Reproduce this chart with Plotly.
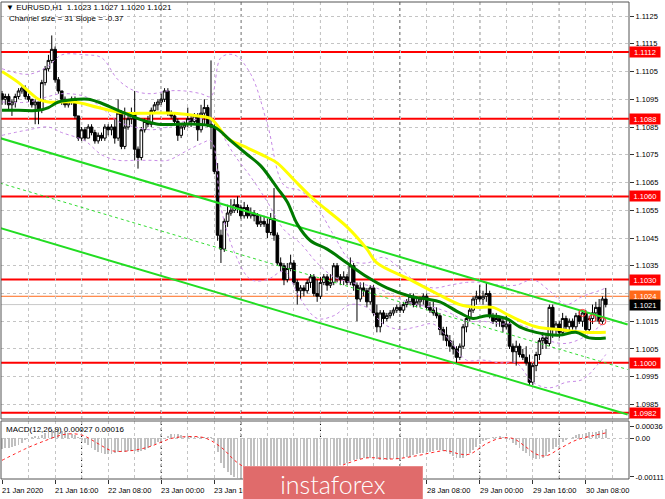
import plotly.graph_objects as go

# ---------------- data ----------------
bars = list(range(183))

opens = [1.1097,1.1095,1.1096,1.1093,1.1094,1.1096,1.1098,1.1099,1.1096,1.1095,1.1093,1.1094,1.1091,1.1101,1.1106,1.1109,1.1113,1.1102,1.1098,1.1095,
         1.1093,1.1094,1.1095,1.1089,1.1081,1.1084,1.1081,1.1085,1.1083,1.1080,1.1082,1.1081,1.1085,1.1084,1.1085,1.1081,1.1090,1.1078,1.1085,1.1088,
         1.1090,1.1077,1.1074,1.1084,1.1087,1.1086,1.1091,1.1093,1.1094,1.1095,1.1098,1.1090,1.1089,1.1087,1.1082,1.1085,1.1086,1.1088,1.1087,1.1089,
         1.1084,1.1090,1.1092,1.1086,1.1085,1.1069,1.1046,1.1041,1.1051,1.1054,1.1055,1.1057,1.1056,1.1053,1.1056,1.1053,1.1054,1.1053,1.1050,1.1051,
         1.1050,1.1047,1.1052,1.1046,1.1036,1.1035,1.1030,1.1034,1.1036,1.1029,1.1026,1.1027,1.1026,1.1029,1.1031,1.1025,1.1024,1.1029,1.1031,1.1028,
         1.1029,1.1035,1.1031,1.1030,1.1031,1.1029,1.1035,1.1028,1.1023,1.1027,1.1026,1.1022,1.1027,1.1018,1.1013,1.1018,1.1016,1.1017,1.1018,1.1019,
         1.1020,1.1019,1.1021,1.1022,1.1024,1.1021,1.1022,1.1023,1.1024,1.1020,1.1019,1.1018,1.1017,1.1012,1.1010,1.1008,1.1006,1.1005,1.1002,1.1006,
         1.1013,1.1016,1.1019,1.1023,1.1024,1.1023,1.1024,1.1025,1.1017,1.1015,1.1016,1.1015,1.1013,1.1014,1.1006,1.1004,1.1006,1.1003,1.1002,1.1000,
         1.0993,1.0999,1.1003,1.1008,1.1009,1.1007,1.1020,1.1012,1.1014,1.1011,1.1016,1.1013,1.1015,1.1013,1.1017,1.1015,1.1018,1.1012,1.1016,1.1018,
         1.1020,1.1015,1.1023]
highs = [1.1098,1.1097,1.1097,1.1095,1.1097,1.1099,1.1100,1.1100,1.1097,1.1095,1.1095,1.1094,1.1102,1.1107,1.1111,1.1118,1.1114,1.1103,1.1098,1.1096,
         1.1095,1.1096,1.1096,1.1089,1.1085,1.1085,1.1086,1.1086,1.1084,1.1083,1.1083,1.1086,1.1086,1.1086,1.1088,1.1095,1.1091,1.1092,1.1089,1.1092,
         1.1098,1.1078,1.1085,1.1088,1.1089,1.1092,1.1094,1.1095,1.1097,1.1099,1.1099,1.1091,1.1090,1.1088,1.1086,1.1087,1.1092,1.1089,1.1090,1.1090,
         1.1093,1.1095,1.1093,1.1109,1.1086,1.1072,1.1048,1.1052,1.1057,1.1059,1.1059,1.1060,1.1057,1.1058,1.1057,1.1056,1.1055,1.1054,1.1053,1.1053,
         1.1052,1.1054,1.1063,1.1047,1.1038,1.1036,1.1036,1.1039,1.1037,1.1030,1.1028,1.1028,1.1030,1.1032,1.1032,1.1030,1.1031,1.1032,1.1032,1.1032,
         1.1036,1.1036,1.1032,1.1033,1.1032,1.1038,1.1036,1.1029,1.1029,1.1029,1.1027,1.1028,1.1028,1.1021,1.1019,1.1019,1.1018,1.1019,1.1020,1.1021,
         1.1021,1.1022,1.1023,1.1025,1.1025,1.1023,1.1024,1.1025,1.1025,1.1022,1.1022,1.1020,1.1018,1.1013,1.1013,1.1010,1.1008,1.1006,1.1007,1.1014,
         1.1017,1.1020,1.1024,1.1026,1.1028,1.1026,1.1029,1.1026,1.1018,1.1018,1.1017,1.1016,1.1017,1.1015,1.1007,1.1008,1.1007,1.1005,1.1006,1.1003,
         1.1000,1.1004,1.1009,1.1011,1.1010,1.1021,1.1021,1.1015,1.1015,1.1018,1.1017,1.1016,1.1016,1.1018,1.1019,1.1019,1.1019,1.1017,1.1021,1.1022,
         1.1023,1.1024,1.1027]
lows = [1.1093,1.1093,1.1091,1.1089,1.1092,1.1095,1.1097,1.1095,1.1094,1.1092,1.1086,1.1086,1.1090,1.1100,1.1105,1.1108,1.1101,1.1097,1.1093,1.1092,
        1.1092,1.1093,1.1088,1.1080,1.1080,1.1080,1.1081,1.1082,1.1079,1.1079,1.1080,1.1080,1.1082,1.1082,1.1079,1.1080,1.1077,1.1077,1.1084,1.1086,
        1.1073,1.1070,1.1073,1.1083,1.1085,1.1085,1.1090,1.1091,1.1093,1.1094,1.1089,1.1088,1.1086,1.1080,1.1081,1.1084,1.1085,1.1085,1.1086,1.1080,
        1.1083,1.1086,1.1085,1.1077,1.1068,1.1044,1.1036,1.1040,1.1049,1.1053,1.1054,1.1054,1.1052,1.1052,1.1052,1.1052,1.1051,1.1049,1.1049,1.1049,
        1.1045,1.1046,1.1044,1.1035,1.1033,1.1028,1.1029,1.1033,1.1028,1.1021,1.1023,1.1024,1.1025,1.1027,1.1024,1.1022,1.1023,1.1028,1.1026,1.1027,
        1.1028,1.1029,1.1028,1.1028,1.1028,1.1028,1.1026,1.1015,1.1022,1.1024,1.1020,1.1021,1.1017,1.1011,1.1011,1.1014,1.1015,1.1016,1.1017,1.1018,
        1.1018,1.1018,1.1020,1.1021,1.1020,1.1020,1.1020,1.1021,1.1019,1.1018,1.1017,1.1016,1.1010,1.1008,1.1006,1.1004,1.1003,1.1000,1.1001,1.1005,
        1.1011,1.1015,1.1018,1.1021,1.1022,1.1021,1.1022,1.1016,1.1014,1.1013,1.1013,1.1011,1.1012,1.1005,1.1000,1.0999,1.1002,1.1001,1.0999,1.0992,
        1.0992,1.0997,1.1001,1.1005,1.1005,1.1006,1.1009,1.1010,1.1009,1.1010,1.1011,1.1011,1.1012,1.1012,1.1014,1.1013,1.1011,1.1011,1.1014,1.1015,
        1.1014,1.1014,1.1020]
closes = [1.1095,1.1096,1.1093,1.1094,1.1096,1.1098,1.1099,1.1096,1.1095,1.1093,1.1094,1.1091,1.1101,1.1106,1.1109,1.1113,1.1102,1.1098,1.1095,1.1093,
          1.1094,1.1095,1.1089,1.1081,1.1084,1.1081,1.1085,1.1083,1.1080,1.1082,1.1081,1.1085,1.1084,1.1085,1.1081,1.1090,1.1078,1.1085,1.1088,1.1090,
          1.1077,1.1074,1.1084,1.1087,1.1086,1.1091,1.1093,1.1094,1.1095,1.1098,1.1090,1.1089,1.1087,1.1082,1.1085,1.1086,1.1088,1.1087,1.1089,1.1084,
          1.1090,1.1092,1.1086,1.1085,1.1069,1.1046,1.1041,1.1051,1.1054,1.1055,1.1057,1.1056,1.1053,1.1056,1.1053,1.1054,1.1053,1.1050,1.1051,1.1050,
          1.1047,1.1052,1.1046,1.1036,1.1035,1.1030,1.1034,1.1036,1.1029,1.1026,1.1027,1.1026,1.1029,1.1031,1.1025,1.1024,1.1029,1.1031,1.1028,1.1029,
          1.1035,1.1031,1.1030,1.1031,1.1029,1.1035,1.1028,1.1023,1.1027,1.1026,1.1022,1.1027,1.1018,1.1013,1.1018,1.1016,1.1017,1.1018,1.1019,1.1020,
          1.1019,1.1021,1.1022,1.1024,1.1021,1.1022,1.1023,1.1024,1.1020,1.1019,1.1018,1.1017,1.1012,1.1010,1.1008,1.1006,1.1005,1.1002,1.1006,1.1013,
          1.1016,1.1019,1.1023,1.1024,1.1023,1.1024,1.1025,1.1017,1.1015,1.1016,1.1015,1.1013,1.1014,1.1006,1.1004,1.1006,1.1003,1.1002,1.1000,1.0993,
          1.0999,1.1003,1.1008,1.1009,1.1007,1.1020,1.1012,1.1014,1.1011,1.1016,1.1013,1.1015,1.1013,1.1017,1.1015,1.1018,1.1012,1.1016,1.1018,1.1020,
          1.1015,1.1023,1.1021]

# moving averages (read at sampled bars)
ma_slow_x = [0,5,11,14,22,29,37,44,52,59,63,68,73,80,83,88,93,98,104,110,113,123,131,138,143,148,153,161,168,176,182]
ma_slow_y = [1.1105,1.1101,1.1095,1.1094,1.1094,1.1092,1.1090,1.1090,1.1090,1.1089,1.1088,1.1081,1.1078,1.1074,1.1072,1.1066,1.1060,
             1.1055,1.1049,1.1041,1.1036,1.1030,1.1025,1.1021,1.1020,1.1020,1.1017,1.1013,1.1012,1.1011,1.1011]
ma_fast_x = [0,5,11,14,17,23,26,29,35,41,47,53,59,64,69,74,78,83,86,89,93,98,104,110,116,123,128,132,138,142,146,152,156,161,168,173,177,182]
ma_fast_y = [1.1091,1.1091,1.1091,1.1092,1.1094,1.1095,1.1095,1.1094,1.1091,1.1088,1.1086,1.1086,1.1086,1.1085,1.1080,1.1075,1.1071,1.1063,
             1.1058,1.1050,1.1044,1.1041,1.1036,1.1031,1.1027,1.1024,1.1023,1.1022,1.1018,1.1016,1.1017,1.1016,1.1013,1.1011,1.1010,1.1011,1.1009,1.1009]

# Bollinger-style bands (violet dashed): upper, middle, lower, estimated at sampled bars
band_x = [0,8,14,18,25,30,35,40,45,50,55,60,63,66,70,75,80,85,90,95,100,105,110,115,120,125,130,135,140,145,150,155,160,165,170,175,180,182]
band_up = [1.1106,1.1104,1.1107,1.1111,1.1111,1.1110,1.1102,1.1098,1.1097,1.1098,1.1098,1.1097,1.1096,1.1110,1.1111,1.1104,1.1086,1.1064,
           1.1062,1.1056,1.1046,1.1037,1.1036,1.1038,1.1034,1.1029,1.1027,1.1028,1.1029,1.1029,1.1028,1.1028,1.1030,1.1026,1.1021,1.1024,1.1026,1.1027]
band_mid = [1.1094,1.1094,1.1096,1.1097,1.1096,1.1092,1.1087,1.1085,1.1084,1.1085,1.1087,1.1088,1.1088,1.1083,1.1075,1.1067,1.1058,1.1048,
            1.1043,1.1036,1.1031,1.1029,1.1028,1.1026,1.1023,1.1021,1.1020,1.1018,1.1015,1.1015,1.1014,1.1014,1.1012,1.1008,1.1007,1.1009,1.1013,1.1015]
band_lo = [1.1082,1.1084,1.1085,1.1083,1.1080,1.1075,1.1073,1.1073,1.1073,1.1073,1.1076,1.1079,1.1080,1.1056,1.1040,1.1030,1.1030,1.1033,
           1.1023,1.1016,1.1017,1.1021,1.1020,1.1014,1.1012,1.1013,1.1014,1.1008,1.1001,1.1001,1.1000,1.1000,1.0993,1.0991,1.0993,1.0994,1.1000,1.1003]

# regression channel (ends of the three lines)
chan_x = [-0.6, 188.6]
chan_upper = [1.10810, 1.10138]
chan_mid = [1.10648, 1.09976]
chan_lower = [1.10486, 1.09814]

# marked touches
touch_x = [175, 178, 181]
touch_y = [1.1018, 1.1016, 1.1015]

# horizontal levels
red_levels = [1.1112, 1.1088, 1.1060, 1.1030, 1.1000, 1.0982]
ask_level = 1.1024
bid_level = 1.1021

# MACD
macd_hist = [-0.00030,-0.00028,-0.00027,-0.00025,-0.00022,-0.00018,-0.00012,
             -0.00005,0.00002,0.00005,0.00006,0.00006,
             0.00010,0.00016,0.00020,0.00024,0.00025,0.00024,0.00022,0.00020,
             0.00017,0.00014,0.00010,0.00004,-0.00004,
             -0.00013,-0.00020,-0.00026,-0.00032,-0.00038,-0.00042,-0.00045,-0.00046,
             -0.00045,-0.00042,-0.00040,-0.00040,-0.00038,-0.00036,-0.00035,-0.00036,
             -0.00038,-0.00036,-0.00032,-0.00027,-0.00021,-0.00015,-0.00009,-0.00004,
             0.00002,0.00008,0.00012,0.00014,0.00013,0.00010,0.00008,0.00007,
             0.00006,0.00005,0.00003,0.00004,0.00005,0.00004,0.00003,-0.00006,
             -0.00040,-0.00070,-0.00085,-0.00097,-0.00105,-0.00110,-0.00113,-0.00116,
             -0.00117,-0.00117,-0.00117,-0.00117,-0.00116,-0.00115,-0.00114,-0.00113,
             -0.00111,-0.00110,-0.00112,-0.00114,-0.00117,-0.00117,-0.00117,-0.00117,
             -0.00117,-0.00117,-0.00116,-0.00114,-0.00110,-0.00105,-0.00100,-0.00096,
             -0.00092,-0.00088,-0.00085,-0.00082,-0.00078,-0.00075,-0.00073,-0.00070,
             -0.00065,-0.00062,-0.00060,-0.00058,-0.00056,-0.00055,-0.00055,-0.00057,
             -0.00060,-0.00062,-0.00062,-0.00061,-0.00060,-0.00059,-0.00058,-0.00057,
             -0.00056,-0.00054,-0.00052,-0.00049,-0.00046,-0.00043,-0.00041,-0.00040,
             -0.00038,-0.00036,-0.00034,-0.00033,-0.00035,-0.00040,-0.00046,-0.00051,
             -0.00055,-0.00057,-0.00055,-0.00050,-0.00042,-0.00033,-0.00024,-0.00015,
             -0.00008,-0.00003,0.00000,0.00003,0.00005,0.00006,0.00005,0.00003,
             -0.00005,-0.00012,-0.00020,-0.00028,-0.00035,-0.00042,-0.00050,-0.00057,
             -0.00060,-0.00058,-0.00055,-0.00050,-0.00040,-0.00030,-0.00024,-0.00018,
             -0.00010,-0.00004,0.00001,0.00005,0.00009,0.00012,0.00014,0.00016,
             0.00018,0.00019,0.00020,0.00021,0.00024,0.00027]
signal_x = [0,7,12,19,24,29,33,38,44,51,55,61,66,71,76,85,95,101,104,110,118,126,130,134,138,141,146,150,154,158,161,164,168,173,179,182]
signal_y = [-0.00063,-0.00030,-0.00010,0.00012,0.00010,-0.00015,-0.00035,-0.00036,-0.00025,0.00000,0.00005,0.00002,-0.00025,-0.00070,
            -0.00095,-0.00110,-0.00105,-0.00084,-0.00072,-0.00056,-0.00059,-0.00048,-0.00040,-0.00035,-0.00045,-0.00045,-0.00015,0.00000,
            0.00000,-0.00025,-0.00045,-0.00050,-0.00030,-0.00005,0.00010,0.00016]

# axis labels
price_ticks = [1.0985,1.0995,1.1005,1.1015,1.1025,1.1035,1.1045,1.1055,1.1065,1.1075,1.1085,1.1095,1.1105,1.1115,1.1125]
time_tick_bars = [0,16,32,48,64,80,96,112,128,144,160,176]
time_tick_labels = ["21 Jan 2020","21 Jan 16:00","22 Jan 08:00","23 Jan 00:00","23 Jan 16:00","24 Jan 08:00",
                    "27 Jan 00:00","27 Jan 16:00","28 Jan 08:00","29 Jan 00:00","29 Jan 16:00","30 Jan 08:00"]
day_sep_bars = [24,48,72,96,120,144,168]
macd_ticks = [0.00036, 0.0, -0.00111]
macd_ticktext = ["0.00036", "0.00", "-0.00111"]

# ---------------- figure ----------------
W, H = 665, 499
ML, MR, MT, MB = 1, 33, 2, 20
PH = H - MT - MB
main_dom = [(479 - 419) / PH, 1.0]
macd_dom = [0.0, (479 - 421) / PH]

def py(ypix):
    return (H - MB - ypix) / PH

def px(xpix):
    return (xpix - ML) / (W - ML - MR)

def bar_px(b):
    return ML + (b + 0.3) / 189.3 * (W - ML - MR)

LOGO_X0, LOGO_X1 = 246, 424

FONT = "Liberation Sans"
GRID = "#C4C4C4"
VIOLET = "#C78AE6"

# price tick texts: a label hidden by a price marker box is left blank
marker_prices = red_levels + [ask_level, bid_level]
price_ticktext = [("" if min(abs(v - m) for m in marker_prices) < 0.00015 else f"{v:.4f}") for v in price_ticks]

fig = go.Figure()

for band in (band_up, band_mid, band_lo):
    fig.add_trace(go.Scatter(x=band_x, y=band, mode="lines", line_shape="spline",
                             line=dict(color=VIOLET, width=1, dash="3px,3px"), hoverinfo="skip"))
fig.add_trace(go.Scatter(x=chan_x, y=chan_mid, mode="lines",
                         line=dict(color="#33DD33", width=1, dash="3px,3px"), hoverinfo="skip"))
fig.add_trace(go.Scatter(x=chan_x, y=chan_upper, mode="lines",
                         line=dict(color="#22DD22", width=2), hoverinfo="skip"))
fig.add_trace(go.Scatter(x=chan_x, y=chan_lower, mode="lines",
                         line=dict(color="#22DD22", width=2), hoverinfo="skip"))
fig.add_trace(go.Scatter(x=ma_slow_x, y=ma_slow_y, mode="lines", line_shape="spline",
                         line=dict(color="#FFFF00", width=3), hoverinfo="skip"))
fig.add_trace(go.Scatter(x=ma_fast_x, y=ma_fast_y, mode="lines", line_shape="spline",
                         line=dict(color="#007A00", width=3), hoverinfo="skip"))
fig.add_trace(go.Candlestick(x=bars, open=opens, high=highs, low=lows, close=closes,
                             increasing=dict(line=dict(color="black", width=1), fillcolor="white"),
                             decreasing=dict(line=dict(color="black", width=1), fillcolor="black"),
                             whiskerwidth=0, hoverinfo="skip"))
fig.add_trace(go.Scatter(x=touch_x, y=touch_y, mode="markers",
                         marker=dict(symbol="circle-open", size=7, color="#FF3030", line=dict(width=1)),
                         hoverinfo="skip"))

fig.add_trace(go.Bar(x=bars, y=macd_hist, width=0.55, marker=dict(color="#C0C0C0", line=dict(width=0)),
                     xaxis="x", yaxis="y2", hoverinfo="skip"))
fig.add_trace(go.Scatter(x=signal_x, y=signal_y, mode="lines", line_shape="spline",
                         line=dict(color="#FF2020", width=1, dash="dot"),
                         xaxis="x", yaxis="y2", hoverinfo="skip"))

shapes = []
for b in day_sep_bars:
    shapes.append(dict(type="line", xref="x", yref="paper", x0=b, x1=b, y0=0, y1=1,
                       line=dict(color="#000000", width=1, dash="3px,3px"), layer="below"))
for lv in red_levels:
    shapes.append(dict(type="line", xref="paper", yref="y", x0=0, x1=1, y0=lv, y1=lv,
                       line=dict(color="#FF0000", width=2), layer="below"))
shapes.append(dict(type="line", xref="paper", yref="y", x0=0, x1=1, y0=ask_level, y1=ask_level,
                   line=dict(color="#FF6A1A", width=1), layer="below"))
shapes.append(dict(type="line", xref="paper", yref="y", x0=0, x1=1, y0=bid_level, y1=bid_level,
                   line=dict(color="#C8C8C8", width=1), layer="below"))
shapes.append(dict(type="line", xref="paper", yref="y2", x0=0, x1=1, y0=0, y1=0,
                   line=dict(color=GRID, width=1, dash="3px,3px"), layer="below"))
# panel frames
shapes.append(dict(type="rect", xref="paper", yref="paper", x0=0, x1=1, y0=main_dom[0], y1=1,
                   line=dict(color="#555555", width=1), fillcolor="rgba(0,0,0,0)"))
shapes.append(dict(type="rect", xref="paper", yref="paper", x0=0, x1=1, y0=0, y1=macd_dom[1],
                   line=dict(color="#555555", width=1), fillcolor="rgba(0,0,0,0)"))

annotations = []
annotations.append(dict(xref="paper", yref="paper", x=px(4), y=py(8), xanchor="left", yanchor="middle",
                        text="▼ EURUSD,H1  1.1023 1.1027 1.1020 1.1021", showarrow=False,
                        font=dict(family=FONT, size=8, color="black")))
annotations.append(dict(xref="paper", yref="paper", x=px(7), y=py(19), xanchor="left", yanchor="middle",
                        text="Channel size = 31 Slope = -0.37", showarrow=False,
                        font=dict(family=FONT, size=8, color="black")))
annotations.append(dict(xref="paper", yref="paper", x=px(4), y=py(429), xanchor="left", yanchor="middle",
                        text="MACD(12,26,9) 0.00027 0.00016", showarrow=False,
                        font=dict(family=FONT, size=8, color="black")))

def price_label(val, bg, fg="white"):
    return dict(xref="paper", yref="y", x=1, y=val, xanchor="left", yanchor="middle",
                text=f"{val:.4f}", showarrow=False, bgcolor=bg, borderpad=1, width=28, height=8,
                font=dict(family=FONT, size=7.5, color=fg))

for lv in red_levels:
    annotations.append(price_label(lv, "#FF0000"))
annotations.append(price_label(ask_level, "#FF6A1A"))
annotations.append(price_label(bid_level, "#000000"))

for b, t in zip(time_tick_bars, time_tick_labels):
    x_left = bar_px(b)
    if LOGO_X0 <= x_left and x_left + 40 <= LOGO_X1:
        continue  # label lies entirely under the logo, as in the original
    annotations.append(dict(xref="x", yref="paper", x=b, y=py(490), xanchor="left", yanchor="middle",
                            text=t, showarrow=False, xshift=-2,
                            font=dict(family=FONT, size=7.5, color="black")))

# logo
annotations.append(dict(xref="paper", yref="paper", x=px((LOGO_X0 + LOGO_X1) / 2), y=py(484), xanchor="center",
                        yanchor="middle", text="instaforex", showarrow=False, width=LOGO_X1 - LOGO_X0 - 2, height=32,
                        bgcolor="#E06B6B", bordercolor="#E98A8A", borderwidth=1,
                        font=dict(family="Lato", size=25, color="white", weight=300)))

fig.update_layout(
    width=W, height=H,
    margin=dict(l=ML, r=MR, t=MT, b=MB, pad=0),
    paper_bgcolor="white", plot_bgcolor="white",
    showlegend=False,
    boxgap=0.2, boxgroupgap=0,
    bargap=0,
    font=dict(family=FONT, size=8, color="black"),
    xaxis=dict(domain=[0, 1], range=[-0.3, 189.0], anchor="y2",
               tickmode="linear", tick0=0, dtick=16, ticks="outside", ticklen=4, tickcolor="#333333",
               showticklabels=False, showgrid=True, gridcolor=GRID, griddash="3px,3px", gridwidth=1,
               minor=dict(tick0=0, dtick=8, showgrid=True, gridcolor=GRID, griddash="3px,3px", ticks=""),
               zeroline=False, showline=False, rangeslider=dict(visible=False)),
    yaxis=dict(domain=main_dom, range=[1.097977, 1.113005], side="right", anchor="x",
               tickmode="array", tickvals=price_ticks, ticktext=price_ticktext,
               ticks="outside", ticklen=4, tickcolor="#333333",
               tickfont=dict(family=FONT, size=7.5, color="black"),
               showgrid=True, gridcolor=GRID, griddash="3px,3px", zeroline=False),
    yaxis2=dict(domain=macd_dom, range=[-0.001168, 0.000504], side="right", anchor="x",
                tickmode="array", tickvals=macd_ticks, ticktext=macd_ticktext,
                ticks="outside", ticklen=4, tickcolor="#333333",
                tickfont=dict(family=FONT, size=7.5, color="black"),
                showgrid=False, zeroline=False),
    shapes=shapes,
    annotations=annotations,
)

fig.write_html("out.html", config={"displayModeBar": False, "staticPlot": True},
               post_script="document.body.style.margin='0';document.body.style.padding='0';document.body.style.overflow='hidden';")
